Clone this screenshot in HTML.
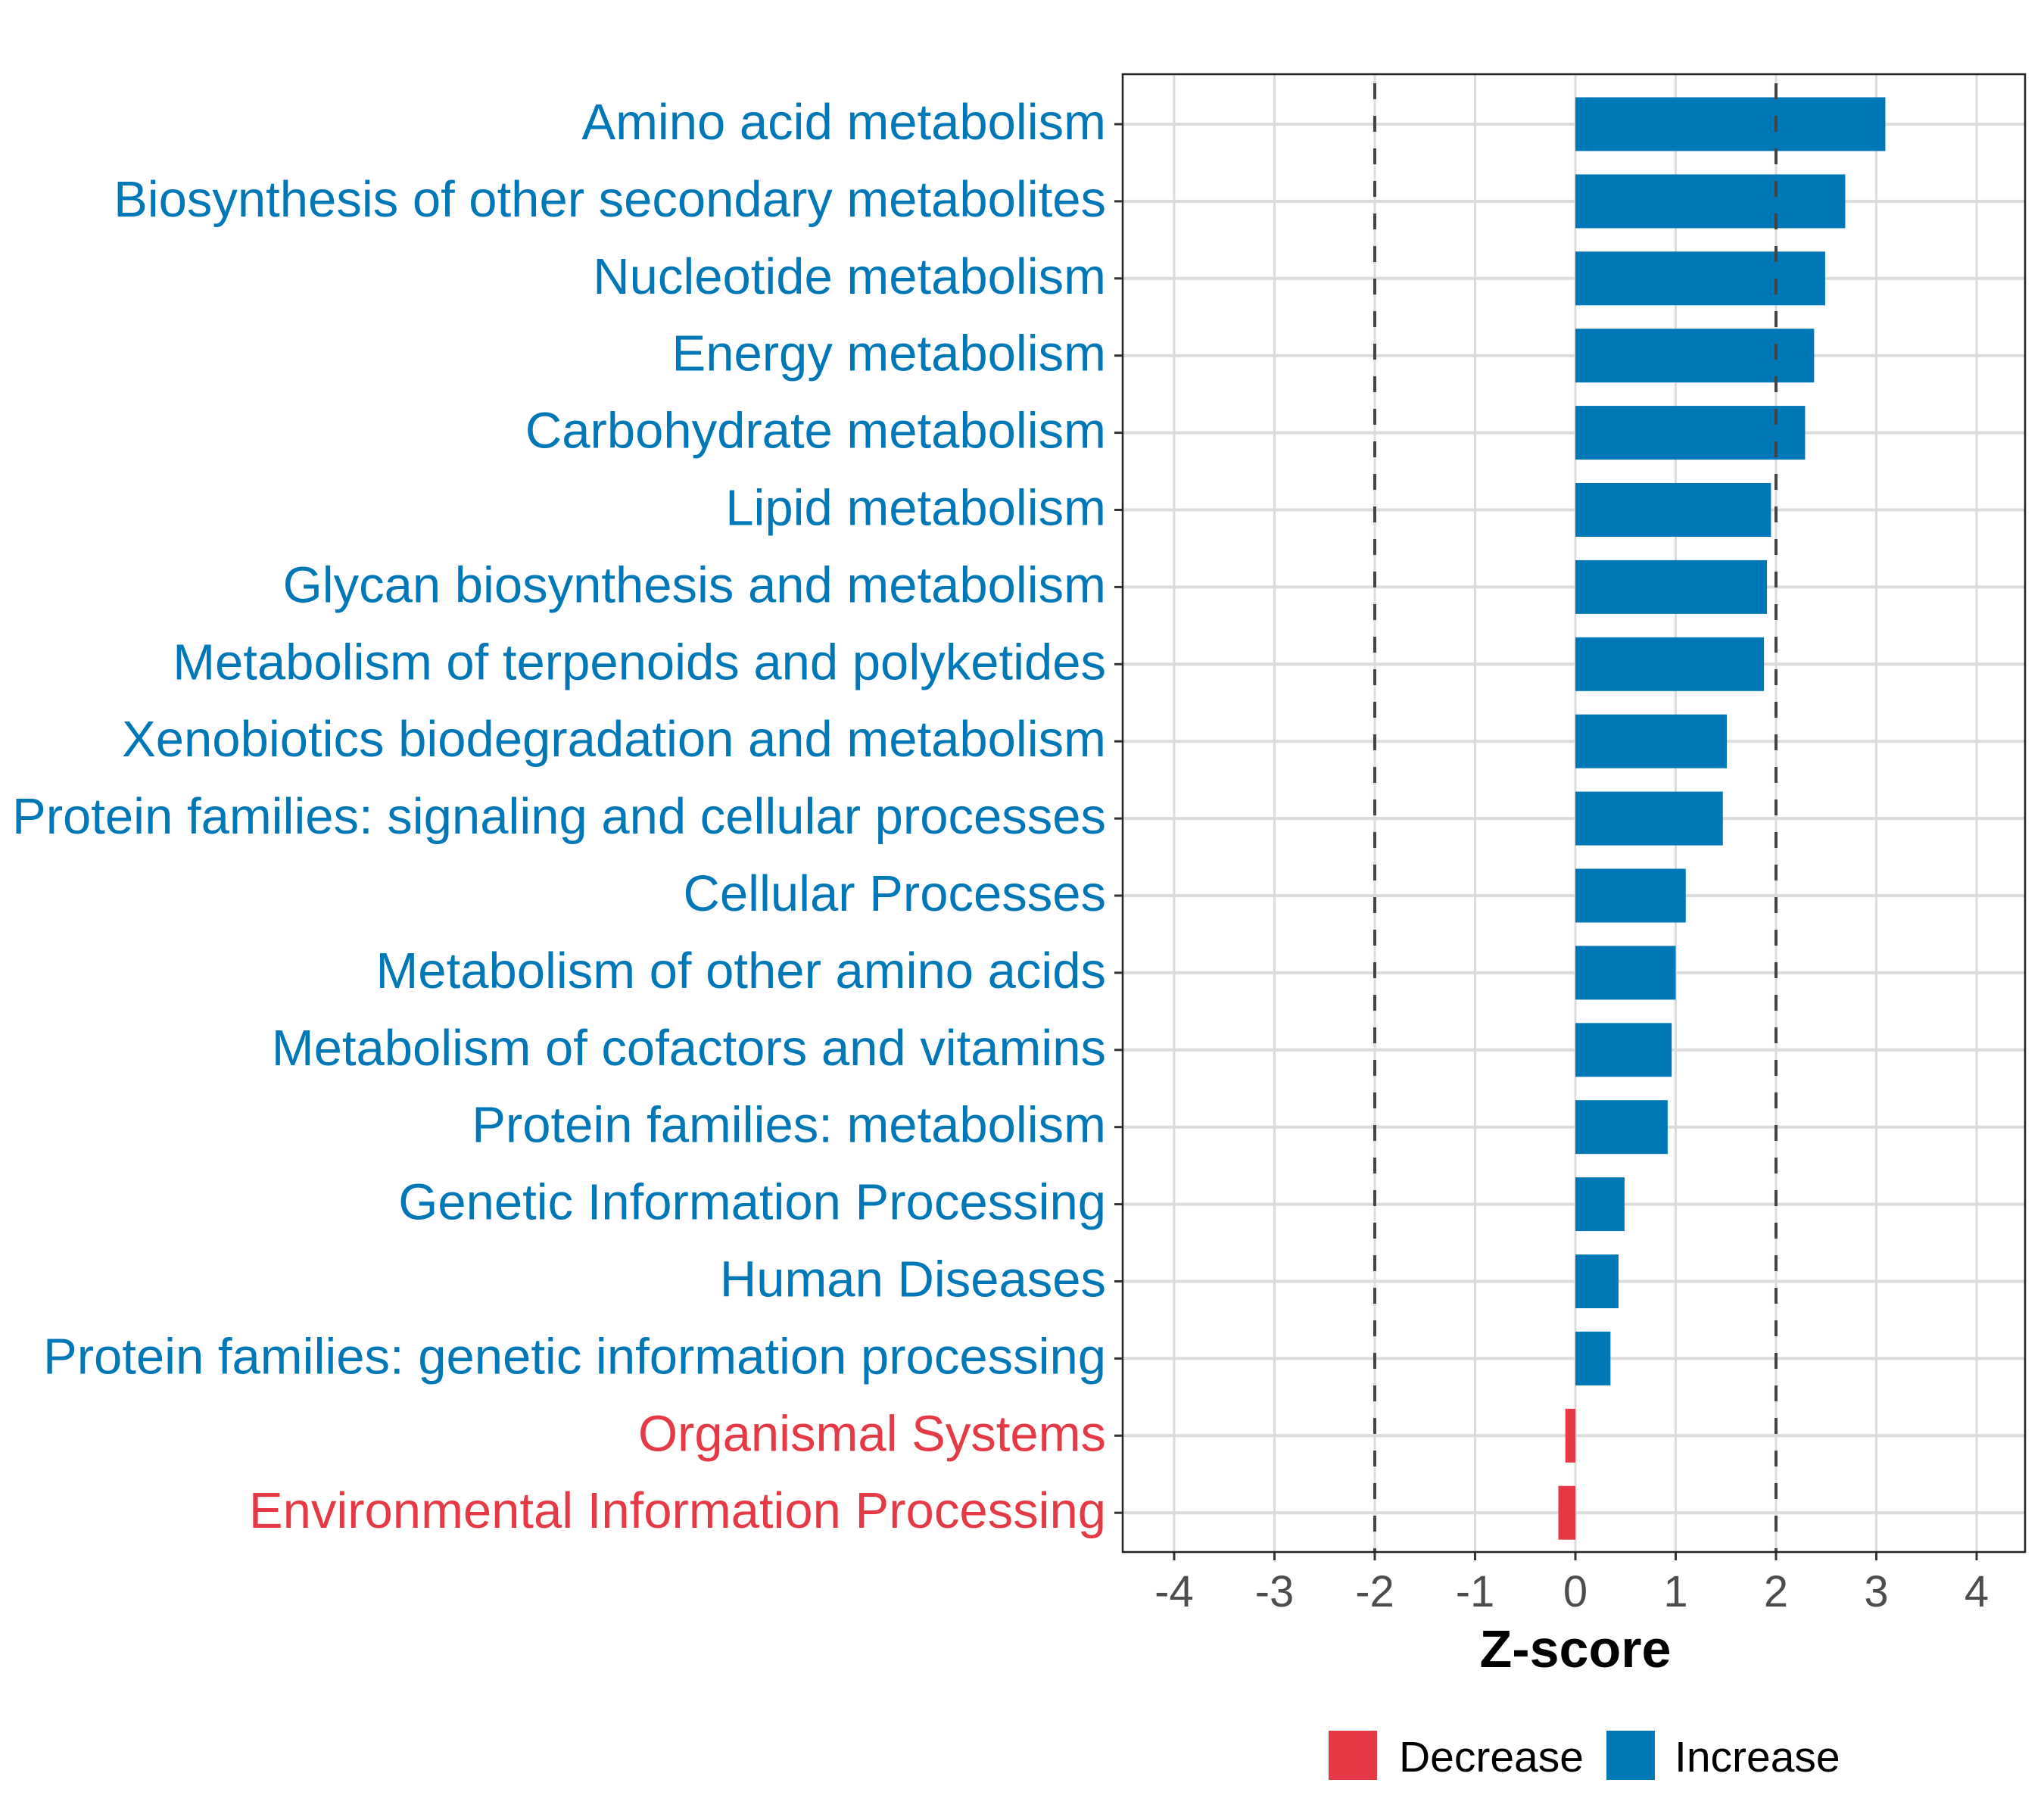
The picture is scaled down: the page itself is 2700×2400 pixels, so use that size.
<!DOCTYPE html>
<html><head><meta charset="utf-8"><style>html,body{margin:0;padding:0;background:#fff}svg{display:block}</style></head>
<body>
<svg id="chart" width="2700" height="2400" xmlns="http://www.w3.org/2000/svg" font-family="Liberation Sans, Arial, sans-serif">
<rect width="2700" height="2400" fill="#fff"/>
<g id="grid"></g><g id="bars"></g><g id="refs"></g><g id="axes"></g>
</svg>
<script>
const categories = ["Amino acid metabolism","Biosynthesis of other secondary metabolites","Nucleotide metabolism","Energy metabolism","Carbohydrate metabolism","Lipid metabolism","Glycan biosynthesis and metabolism","Metabolism of terpenoids and polyketides","Xenobiotics biodegradation and metabolism","Protein families: signaling and cellular processes","Cellular Processes","Metabolism of other amino acids","Metabolism of cofactors and vitamins","Protein families: metabolism","Genetic Information Processing","Human Diseases","Protein families: genetic information processing","Organismal Systems","Environmental Information Processing"];
const zscores = [3.09,2.69,2.49,2.38,2.29,1.95,1.91,1.88,1.51,1.47,1.10,1.00,0.96,0.92,0.49,0.43,0.35,-0.10,-0.17];
const xTicks = [-4,-3,-2,-1,0,1,2,3,4];
const xTickLabels = ["-4","-3","-2","-1","0","1","2","3","4"];
const refLines = [-2,2];
const legendLabels = ["Decrease","Increase"];

const NS="http://www.w3.org/2000/svg";
const BLUE="#0077b6", RED="#e63946";
const L=1483,R=2675,T=98,B=2050;
const xMin=-4.513,xMax=4.483;
const x=v=>L+(v-xMin)/(xMax-xMin)*(R-L);
const y0=164, step=101.9;
const y=i=>y0+i*step;
function mk(tag,attrs,parent){const e=document.createElementNS(NS,tag);for(const k in attrs)e.setAttribute(k,attrs[k]);parent.appendChild(e);return e;}
const grid=document.getElementById('grid'),bars=document.getElementById('bars'),refs=document.getElementById('refs'),axes=document.getElementById('axes');

xTicks.forEach((t,i)=>{
  const g=mk('line',{x1:x(t),x2:x(t),y1:T,y2:B,stroke:'#dcdcdc','stroke-width':3},grid);
  
  
  const tk=mk('line',{x1:x(t),x2:x(t),y1:B,y2:B+11,stroke:'#333','stroke-width':3},axes);
  
  
  const tl=mk('text',{x:x(t),y:2122,'text-anchor':'middle','font-size':58,fill:'#4d4d4d'},axes);
  tl.textContent=xTickLabels[i];
  
  
});
categories.forEach((c,i)=>{
  const g=mk('line',{x1:L,x2:R,y1:y(i),y2:y(i),stroke:'#dcdcdc','stroke-width':4},grid);
  
  
  const v=zscores[i];
  const col=v>=0?BLUE:RED;
  const b=mk('rect',{x:Math.min(x(0),x(v)),y:y(i)-35.5,width:Math.abs(x(v)-x(0)),height:71,fill:col},bars);
  
  
  const tk=mk('line',{x1:L-11,x2:L,y1:y(i),y2:y(i),stroke:'#333','stroke-width':3},axes);
  
  
  const tl=mk('text',{x:1461,y:y(i)+20,'text-anchor':'end','font-size':67,fill:col},axes);
  tl.textContent=c;
  
  
});
refLines.forEach(r=>{
  const l=mk('line',{x1:x(r),x2:x(r),y1:T,y2:B,stroke:'#444','stroke-width':4,'stroke-dasharray':'21 22','stroke-dashoffset':'-12'},refs);
  
  
});
const frame=mk('rect',{x:L,y:T,width:R-L,height:B-T,fill:'none',stroke:'#222','stroke-width':2.5},axes);


const xt=mk('text',{x:x(0),y:2202,'text-anchor':'middle','font-size':70,'font-weight':'bold',fill:'#000'},axes);
xt.textContent='Z-score';


const legX=[1755,2122],legT=[1848,2212],legC=[RED,BLUE];
legendLabels.forEach((lab,i)=>{
  const s=mk('rect',{x:legX[i],y:2286,width:64,height:65,fill:legC[i]},axes);
  
  
  const t=mk('text',{x:legT[i],y:2340,'font-size':57,fill:'#000'},axes);
  t.textContent=lab;
  
  
});
</script>
</body></html>
